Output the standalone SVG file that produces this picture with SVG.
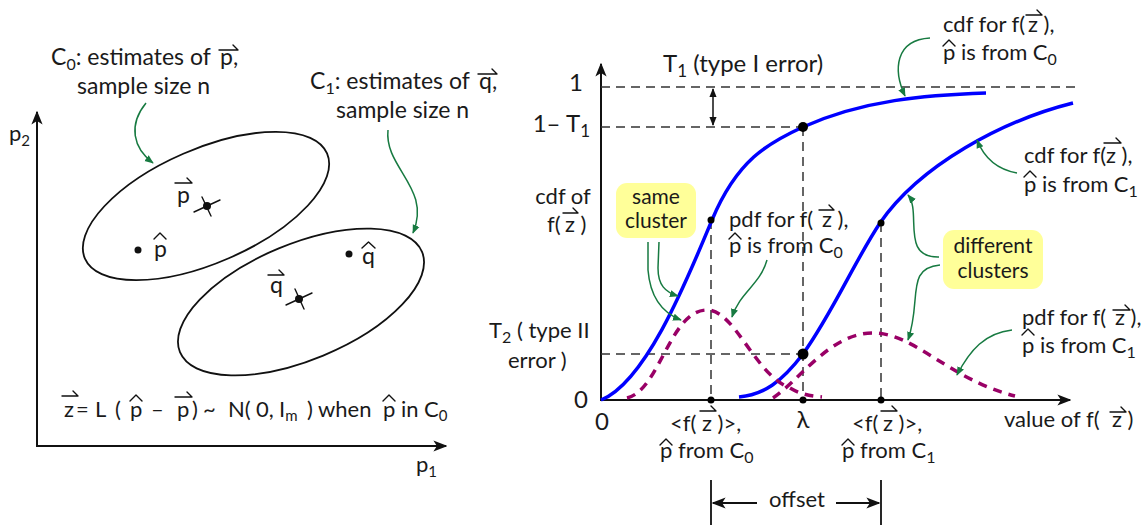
<svg xmlns="http://www.w3.org/2000/svg" width="1146" height="527" viewBox="0 0 1146 527">
<defs>
<style>
text{font-family:Lato,"Open Sans","Liberation Sans",sans-serif;fill:#1a1a1a}
.l{font-size:23px}
.f{font-size:22px}
.a{font-size:22px}
.v{font-size:24px}
.b{font-size:21px}
.ax{stroke:#111;stroke-width:2;fill:none}
.el{stroke:#111;stroke-width:1.8;fill:none}
.ac{stroke:#111;stroke-width:1.4;fill:none;stroke-linecap:round;stroke-linejoin:round}
.gl{stroke:#177a41;stroke-width:1.5;fill:none;marker-end:url(#ga)}
.dash{stroke:#333;stroke-width:1.5;stroke-dasharray:9 6;fill:none}
.cdf{stroke:#0000ff;stroke-width:3.5;fill:none}
.pdf{stroke:#990066;stroke-width:3.5;fill:none;stroke-dasharray:9 7}
.box{fill:#ffff99}
</style>
<marker id="ga" viewBox="0 0 10 10" refX="9" refY="5" markerWidth="9" markerHeight="9" orient="auto" markerUnits="userSpaceOnUse"><path d="M0,1 L10,5 L0,9 z" fill="#177a41"/></marker>
<marker id="ba" viewBox="0 0 10 10" refX="9" refY="5" markerWidth="14" markerHeight="14" orient="auto" markerUnits="userSpaceOnUse"><path d="M0,1 L10,5 L0,9 L2.5,5 z" fill="#111"/></marker>
<marker id="sa" viewBox="0 0 10 10" refX="9" refY="5" markerWidth="9" markerHeight="9" orient="auto-start-reverse" markerUnits="userSpaceOnUse"><path d="M0,1 L10,5 L0,9 z" fill="#111"/></marker>
</defs>

<!-- LEFT PANEL -->
<g id="left-axes">
<path class="ax" d="M37,446 V112" marker-end="url(#ba)"/>
<path class="ax" d="M36,446 H446" marker-end="url(#ba)"/>
<text class="a" x="9" y="141">p<tspan font-size="15" dy="5">2</tspan></text>
<text class="a" x="416" y="472">p<tspan font-size="15" dy="5">1</tspan></text>
</g>

<g id="cluster-c0">
<ellipse class="el" cx="206" cy="206" rx="132" ry="57" transform="rotate(-23.5 206 206)"/>
<circle cx="207" cy="206" r="4" fill="#111"/>
<path class="ac" d="M194,212 L220,200 M202,197 L211,216"/>
<text class="l" x="177" y="203">p</text>
<path class="ac" d="M175,183 H192 l-5,-5"/>
<circle cx="138" cy="250" r="3.5" fill="#111"/>
<text class="l" x="154" y="257">p</text>
<path class="ac" d="M154,239 L160,233 L166,239"/>
</g>

<g id="cluster-c1">
<ellipse class="el" cx="301" cy="302" rx="131" ry="58" transform="rotate(-22.5 301 302)"/>
<circle cx="299" cy="299" r="4" fill="#111"/>
<path class="ac" d="M286,305 L312,293 M295,289 L304,309"/>
<text class="l" x="270" y="293">q</text>
<path class="ac" d="M268,275 H284 l-5,-5"/>
<circle cx="349" cy="254" r="3.5" fill="#111"/>
<text class="l" x="362" y="264">q</text>
<path class="ac" d="M362,248 L368.5,242 L375,248"/>
</g>

<g id="label-c0">
<text class="l" x="51" y="65">C<tspan font-size="16" dy="5">0</tspan><tspan dy="-5">: estimates of </tspan><tspan x="220">p</tspan>,</text>
<path class="ac" d="M219,50 H238 l-5,-5"/>
<text class="l" x="77" y="94">sample size n</text>
</g>

<g id="label-c1">
<text class="l" x="310" y="89">C<tspan font-size="16" dy="5">1</tspan><tspan dy="-5">: estimates of </tspan><tspan x="479">q</tspan>,</text>
<path class="ac" d="M478,74 H497 l-5,-5"/>
<text class="l" x="336" y="118">sample size n</text>
</g>

<g id="formula">
<text class="f" y="417"><tspan x="64">z</tspan><tspan x="76">= </tspan><tspan x="95">L </tspan><tspan x="115">( </tspan><tspan x="130">p </tspan><tspan x="151">– </tspan><tspan x="177">p</tspan><tspan x="192">)</tspan><tspan x="203">~ </tspan><tspan x="228">N( </tspan><tspan x="256">0, </tspan><tspan x="279">I</tspan><tspan font-size="15" dy="4">m</tspan><tspan x="307" dy="-4">)</tspan><tspan x="318">when </tspan><tspan x="383">p</tspan><tspan x="401">in </tspan><tspan x="424">C</tspan><tspan font-size="15" dy="4">0</tspan></text>
<path class="ac" d="M62,396 H78 l-5,-5"/>
<path class="ac" d="M130,401 L136,395 L142,401"/>
<path class="ac" d="M175,397 H192 l-5,-5"/>
<path class="ac" d="M383,401 L389,395 L395,401"/>
</g>

<!-- RIGHT PANEL -->
<g id="right-axes">
<path class="ax" d="M601,401 V64" marker-end="url(#ba)"/>
<path class="ax" d="M600,400 H1070" marker-end="url(#ba)"/>
<text class="v" x="583" y="91" text-anchor="end">1</text>
<text class="v" x="590" y="132" text-anchor="end">1– T<tspan font-size="17" dy="5">1</tspan></text>
<text class="v" x="588" y="408" text-anchor="end">0</text>
<text class="v" x="602" y="430" text-anchor="middle">0</text>
<text class="v" x="803" y="428" text-anchor="middle">λ</text>
<text class="a" x="563" y="204" text-anchor="middle">cdf of</text>
<text class="a" x="547" y="232">f(<tspan x="565">z</tspan> )</text>
<path class="ac" d="M563,213 H578 l-5,-5"/>
<text class="a" x="489" y="338">T<tspan font-size="16" dy="5">2</tspan><tspan dy="-5"> ( type II</tspan></text>
<text class="a" x="508" y="368">error )</text>
<text class="a" x="1004" y="427">value of  f(<tspan x="1112">z</tspan> )</text>
<path class="ac" d="M1110,412 H1126 l-5,-5"/>
</g>

<g id="guides">
<path class="dash" d="M601,87 H1075"/>
<path class="dash" d="M601,127 H803"/>
<path class="dash" d="M601,354 H803"/>
<path class="dash" d="M711,220 V400"/>
<path class="dash" d="M803,127 V400"/>
<path class="dash" d="M881,223 V400"/>
</g>

<g id="curves">
<path class="cdf" d="M601,400 C646,382 687,280 712,220 C737,160 768,143 803,127 C863,100 926,95 986,93"/>
<path class="cdf" d="M739,397 C764,394.5 781,382.6 803,354 C833,312 855,260.5 880,223 C920,165 1003,120.5 1073,103"/>
<path class="pdf" d="M627,398 C660,390 670,310 707,310 C735,310 755,375 790,388 C800,394 810,396 822,397"/>
<path class="pdf" d="M773,398 C800,380 830,333 873,333 C915,333 950,380 1015,396"/>
</g>

<g id="points">
<circle cx="803" cy="127" r="5" fill="#000"/>
<circle cx="803" cy="354" r="5.5" fill="#000"/>
<circle cx="711" cy="220" r="3.5" fill="#000"/>
<circle cx="881" cy="223" r="3.5" fill="#000"/>
<circle cx="711" cy="400" r="3.5" fill="#000"/>
<circle cx="803" cy="400" r="3.5" fill="#000"/>
<circle cx="881" cy="400" r="3.5" fill="#000"/>
</g>

<g id="type1">
<text class="v" x="663" y="72">T<tspan font-size="17" dy="5">1</tspan><tspan dy="-5"> (type I error)</tspan></text>
<path d="M713,89 V125" stroke="#111" stroke-width="1.5" marker-start="url(#sa)" marker-end="url(#sa)"/>
</g>

<g id="label-cdf-c0">
<text class="a" x="943" y="32">cdf for f(<tspan x="1028">z</tspan> ),</text>
<path class="ac" d="M1026,15 H1042 l-5,-5"/>
<text class="a" x="943" y="60">p is from C<tspan font-size="16" dy="5">0</tspan></text>
<path class="ac" d="M943,46 L949,40 L955,46"/>
</g>

<g id="label-cdf-c1">
<text class="a" x="1024" y="163">cdf for f(<tspan x="1106">z</tspan> ),</text>
<path class="ac" d="M1104,143 H1121 l-5,-5"/>
<text class="a" x="1024" y="192">p is from C<tspan font-size="16" dy="5">1</tspan></text>
<path class="ac" d="M1024,177 L1030,171 L1036,177"/>
</g>

<g id="label-pdf-c0">
<text class="a" x="729" y="227">pdf for f(<tspan x="822">z</tspan> ),</text>
<path class="ac" d="M819,210 H834 l-5,-5"/>
<text class="a" x="729" y="253">p is from C<tspan font-size="16" dy="5">0</tspan></text>
<path class="ac" d="M729,239 L735,233 L741,239"/>
</g>

<g id="label-pdf-c1">
<text class="a" x="1022" y="325">pdf for f(<tspan x="1115">z</tspan> ),</text>
<path class="ac" d="M1113,310 H1130 l-5,-5"/>
<text class="a" x="1022" y="353">p is from C<tspan font-size="16" dy="5">1</tspan></text>
<path class="ac" d="M1022,335 L1028,329 L1034,335"/>
</g>

<g id="label-mean-c0">
<text class="a" x="670" y="431">&lt;f(<tspan x="702">z</tspan> )&gt;,</text>
<path class="ac" d="M700,411 H716 l-5,-5"/>
<text class="a" x="660" y="458">p from C<tspan font-size="16" dy="5">0</tspan></text>
<path class="ac" d="M660,445 L666,439 L672,445"/>
</g>

<g id="label-mean-c1">
<text class="a" x="852" y="431">&lt;f(<tspan x="883">z</tspan> )&gt;,</text>
<path class="ac" d="M881,411 H897 l-5,-5"/>
<text class="a" x="842" y="458">p from C<tspan font-size="16" dy="5">1</tspan></text>
<path class="ac" d="M842,445 L848,439 L854,445"/>
</g>

<g id="offset">
<path class="ax" d="M711,480 V525 M881,480 V525" style="stroke-width:1.8"/>
<path d="M757,503 H713" stroke="#111" stroke-width="1.8" marker-end="url(#ba)"/>
<path d="M836,503 H879" stroke="#111" stroke-width="1.8" marker-end="url(#ba)"/>
<text class="a" x="797" y="507" text-anchor="middle">offset</text>
</g>

<g id="box-same">
<rect class="box" x="616" y="183" width="80" height="55" rx="11"/>
<text class="b" x="656" y="204" text-anchor="middle">same</text>
<text class="b" x="656" y="228" text-anchor="middle">cluster</text>
</g>

<g id="box-different">
<rect class="box" x="943" y="230" width="100" height="59" rx="11"/>
<text class="b" x="993" y="253" text-anchor="middle">different</text>
<text class="b" x="993" y="278" text-anchor="middle">clusters</text>
</g>

<g id="connectors">
<path class="gl" d="M146,103 C128,125 133,148 153,163"/>
<path class="gl" d="M388,130 C384,168 432,188 413,233"/>
<path class="gl" d="M930,38 C895,40 893,70 905,96"/>
<path class="gl" d="M1017,173 C1000,170 985,160 977,140"/>
<path class="gl" d="M767,260 C760,285 740,292 732,317"/>
<path class="gl" d="M648,242 L648,270 C650,295 660,312 681,320"/>
<path class="gl" d="M659,242 L658,268 C658,285 665,292 678,296"/>
<path class="gl" d="M939,257 C900,258 922,212 908,195"/>
<path class="gl" d="M940,265 C905,268 922,300 908,340"/>
<path class="gl" d="M1012,330 C985,333 970,350 957,375"/>
</g>
</svg>
